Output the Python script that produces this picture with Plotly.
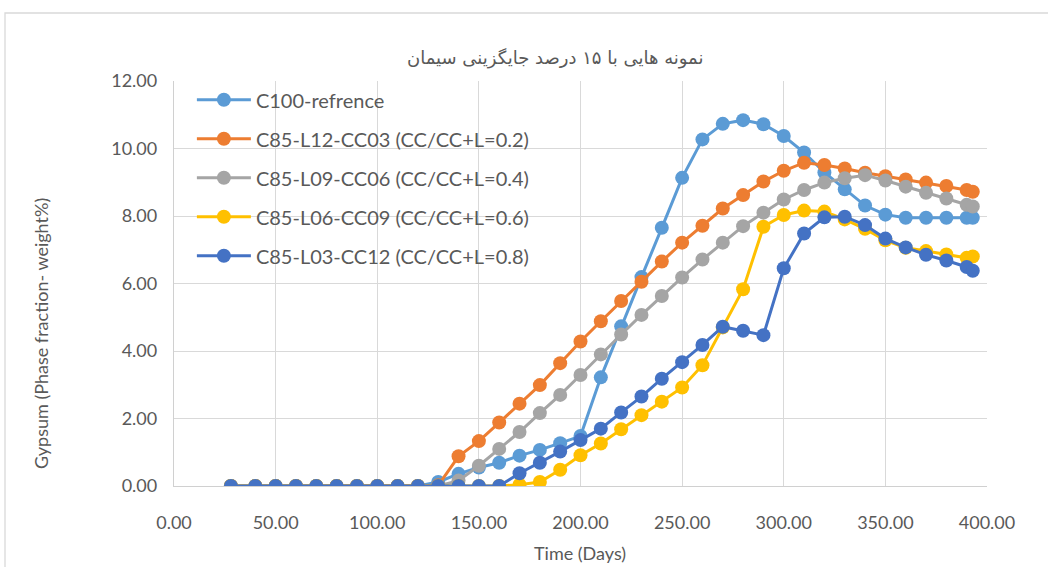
import plotly.graph_objects as go

# Sampling days (same for every mix)
days = [28, 40, 50, 60, 70, 80, 90, 100, 110, 120, 130, 140, 150, 160, 170,
        180, 190, 200, 210, 220, 230, 240, 250, 260, 270, 280, 290, 300, 310,
        320, 330, 340, 350, 360, 370, 380, 390, 393]

c100_ref = [0, 0, 0, 0, 0, 0, 0, 0, 0, 0, 0.12, 0.36, 0.55, 0.69, 0.90,
            1.07, 1.27, 1.48, 3.22, 4.73, 6.19, 7.65, 9.13, 10.27, 10.73,
            10.84, 10.72, 10.37, 9.88, 9.29, 8.79, 8.31, 8.04, 7.95, 7.95,
            7.95, 7.95, 7.95]

c85_l12_cc03 = [0, 0, 0, 0, 0, 0, 0, 0, 0, 0, 0.02, 0.88, 1.33, 1.88, 2.44,
                2.99, 3.64, 4.28, 4.88, 5.48, 6.05, 6.65, 7.21, 7.71, 8.22,
                8.62, 9.02, 9.34, 9.58, 9.51, 9.41, 9.28, 9.18, 9.08, 8.99,
                8.89, 8.77, 8.72]

c85_l09_cc06 = [0, 0, 0, 0, 0, 0, 0, 0, 0, 0, 0, 0.16, 0.60, 1.10, 1.60,
                2.16, 2.70, 3.29, 3.90, 4.49, 5.07, 5.63, 6.18, 6.71, 7.21,
                7.70, 8.10, 8.49, 8.77, 8.99, 9.12, 9.21, 9.05, 8.87, 8.69,
                8.52, 8.33, 8.28]

c85_l06_cc09 = [0, 0, 0, 0, 0, 0, 0, 0, 0, 0, 0, 0, 0, 0, 0.04,
                0.12, 0.48, 0.91, 1.26, 1.68, 2.10, 2.50, 2.92, 3.58, 4.70,
                5.83, 7.68, 8.03, 8.16, 8.13, 7.90, 7.62, 7.28, 7.06, 6.96,
                6.86, 6.76, 6.80]

c85_l03_cc12 = [0, 0, 0, 0, 0, 0, 0, 0, 0, 0, 0, 0, 0, 0, 0.38,
                0.69, 1.02, 1.36, 1.70, 2.18, 2.65, 3.18, 3.67, 4.18, 4.72,
                4.60, 4.47, 6.45, 7.48, 7.96, 7.98, 7.73, 7.33, 7.07, 6.85,
                6.68, 6.49, 6.38]

series_names = [
    "C100-refrence",
    "C85-L12-CC03 (CC/CC+L=0.2)",
    "C85-L09-CC06 (CC/CC+L=0.4)",
    "C85-L06-CC09 (CC/CC+L=0.6)",
    "C85-L03-CC12 (CC/CC+L=0.8)",
]
series_values = [c100_ref, c85_l12_cc03, c85_l09_cc06, c85_l06_cc09, c85_l03_cc12]
series_colors = ["#5B9BD5", "#ED7D31", "#A5A5A5", "#FFC000", "#4472C4"]

title_text = "نمونه هایی با ۱۵ درصد جایگزینی سیمان"
x_title = "Time (Days)"
y_title = "Gypsum (Phase fraction- weight%)"

W, H = 1048, 567
ML, MR, MT, MB = 174, 61, 81, 81
plot_w = W - ML - MR
plot_h = H - MT - MB


def px_x(px):
    return (px - ML) / plot_w


def px_y(py):
    return (H - MB - py) / plot_h


fig = go.Figure()
for i, (name, vals, col) in enumerate(zip(series_names, series_values, series_colors)):
    fig.add_trace(go.Scatter(
        x=days, y=vals, name=name, mode="lines+markers",
        legendgroup=f"g{i}",
        line=dict(color=col, width=3),
        marker=dict(color=col, size=14, line=dict(width=0)),
    ))

grey_txt = "#595959"
tick_font = dict(family="Lato, sans-serif", size=18, color=grey_txt)

fig.update_layout(
    width=W, height=H, autosize=False,
    margin=dict(l=ML, r=MR, t=MT, b=MB),
    paper_bgcolor="white", plot_bgcolor="white",
    font=dict(family="Lato, sans-serif", color=grey_txt),
    showlegend=True,
    legend=dict(
        x=0.022, y=1.002, xanchor="left", yanchor="top",
        bgcolor="rgba(0,0,0,0)", borderwidth=0,
        font=dict(family="Lato, sans-serif", size=20, color=grey_txt),
        traceorder="grouped", tracegroupgap=10,
        itemwidth=54,
    ),
    xaxis=dict(
        range=[0, 400], dtick=50, tick0=0, tickformat=".2f",
        showgrid=True, gridcolor="#D9D9D9", gridwidth=1.3,
        showline=True, linecolor="#D0D0D0", linewidth=1.3,
        zeroline=False, tickfont=tick_font, ticks="",
        ticklabelstandoff=20, automargin=False,
    ),
    yaxis=dict(
        range=[0, 12], dtick=2, tick0=0, tickformat=".2f",
        showgrid=True, gridcolor="#D9D9D9", gridwidth=1.3,
        showline=True, linecolor="#D0D0D0", linewidth=1.3,
        zeroline=False, tickfont=tick_font, ticks="",
        ticklabelstandoff=12, automargin=False,
    ),
    annotations=[
        dict(
            text=title_text, xref="paper", yref="paper",
            x=px_x(555), y=px_y(58),
            xanchor="center", yanchor="middle", showarrow=False,
            font=dict(family="DejaVu Sans, sans-serif", size=18, color=grey_txt),
        ),
        dict(
            text=y_title, xref="paper", yref="paper",
            x=px_x(41), y=px_y(334), textangle=-90,
            xanchor="center", yanchor="middle", showarrow=False,
            font=dict(family="Lato, sans-serif", size=18, color=grey_txt),
        ),
        dict(
            text=x_title, xref="paper", yref="paper",
            x=px_x(580), y=px_y(553),
            xanchor="center", yanchor="middle", showarrow=False,
            font=dict(family="Lato, sans-serif", size=18, color=grey_txt),
        ),
    ],
    shapes=[dict(
        type="rect", xref="paper", yref="paper", layer="below",
        x0=px_x(5), x1=px_x(W + 20),
        y0=px_y(H + 20), y1=px_y(13),
        line=dict(color="#D9D9D9", width=1.3), fillcolor="rgba(0,0,0,0)",
    )],
)

fig.write_html("out.html")
